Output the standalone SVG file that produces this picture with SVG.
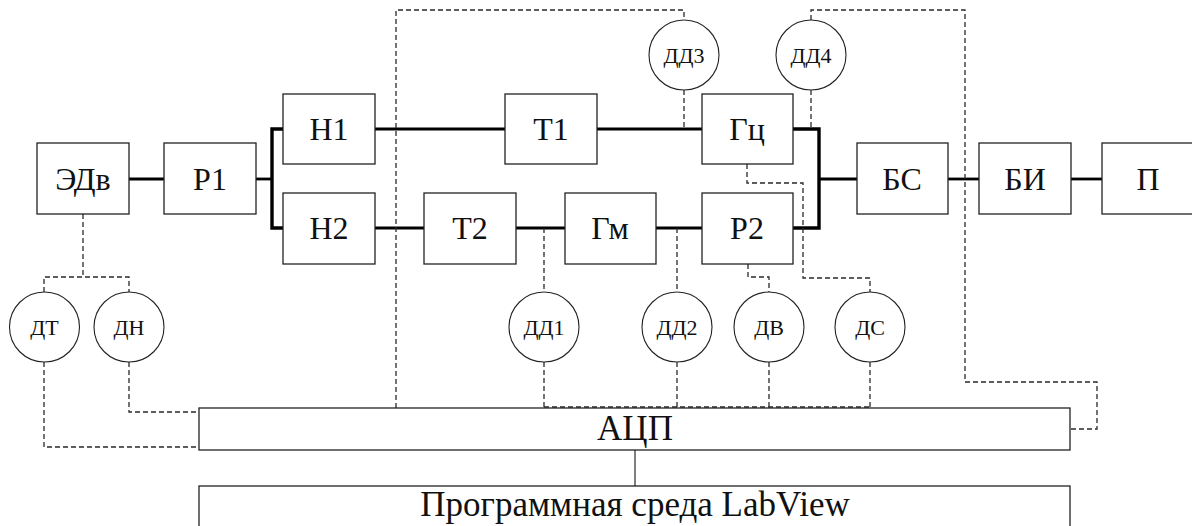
<svg xmlns="http://www.w3.org/2000/svg" width="1192" height="526" viewBox="0 0 1192 526">
  <style>
    .box { fill: #fff; stroke: #222; stroke-width: 1.3; }
    .sensor { fill: #fff; stroke: #222; stroke-width: 1.1; }
    text { font-family: "Liberation Serif", "DejaVu Serif", serif; fill: #111; text-anchor: middle; }
    .lbl { font-size: 32px; }
    .slbl { font-size: 22px; }
    .big { font-size: 35px; }
    .shaft { fill: none; stroke: #000; stroke-width: 2.8; }
    .bus { fill: none; stroke: #000; stroke-width: 3.4; }
    .signal { fill: none; stroke: #2a2a2a; stroke-width: 1.3; stroke-dasharray: 5 3; }
    .link { fill: none; stroke: #555; stroke-width: 1.5; }
  </style>

  <!-- mechanical connections and signal wiring -->
  <g id="connectors">
    <path class="shaft" d="M129,179 H164"/>
    <path class="shaft" d="M256,179 H272"/>
    <path class="bus" d="M283,129 H272 V228 H283"/>
    <path class="shaft" d="M375,129 H505"/>
    <path class="shaft" d="M597,129 H702"/>
    <path class="shaft" d="M375,228 H424"/>
    <path class="shaft" d="M516,228 H565"/>
    <path class="shaft" d="M656,228 H702"/>
    <path class="bus" d="M793,129 H819 V228 H793"/>
    <path class="shaft" d="M819,179 H857"/>
    <path class="shaft" d="M948,179 H979"/>
    <path class="shaft" d="M1071,179 H1102"/>

    <path class="signal" d="M83,214 V277"/>
    <path class="signal" d="M44,292 V277 H129 V292"/>
    <path class="signal" d="M44,362 V447 H199"/>
    <path class="signal" d="M129,362 V412 H199"/>
    <path class="signal" d="M396,408 V10 H684 V20"/>
    <path class="signal" d="M684,90 V129"/>
    <path class="signal" d="M811,20 V10 H965 V382 H1097 V429 H1070"/>
    <path class="signal" d="M811,90 V129"/>
    <path class="signal" d="M747,164 V183 H803 V278 H870 V292"/>
    <path class="signal" d="M748,264 V277 H769 V292"/>
    <path class="signal" d="M544,228 V292"/>
    <path class="signal" d="M677,228 V292"/>
    <path class="signal" d="M544,362 V408"/>
    <path class="signal" d="M677,362 V408"/>
    <path class="signal" d="M769,362 V408"/>
    <path class="signal" d="M870,362 V408"/>
    <path class="signal" d="M544,407 H870"/>

    <path class="link" d="M635,450 V486"/>
  </g>

  <g id="EDv"><rect class="box" x="37" y="143" width="92" height="71"/><text class="lbl" x="83" y="190">ЭДв</text></g>
  <g id="R1"><rect class="box" x="164" y="143" width="92" height="71"/><text class="lbl" x="210" y="190">Р1</text></g>
  <g id="N1"><rect class="box" x="283" y="94" width="92" height="70"/><text class="lbl" x="329" y="140">Н1</text></g>
  <g id="N2"><rect class="box" x="283" y="193" width="92" height="71"/><text class="lbl" x="329" y="239">Н2</text></g>
  <g id="T1"><rect class="box" x="505" y="94" width="92" height="70"/><text class="lbl" x="551" y="140">Т1</text></g>
  <g id="T2"><rect class="box" x="424" y="193" width="92" height="71"/><text class="lbl" x="470" y="239">Т2</text></g>
  <g id="Gm"><rect class="box" x="565" y="193" width="91" height="71"/><text class="lbl" x="610" y="239">Гм</text></g>
  <g id="Gc"><rect class="box" x="702" y="94" width="91" height="70"/><text class="lbl" x="747" y="140">Гц</text></g>
  <g id="R2"><rect class="box" x="702" y="193" width="91" height="71"/><text class="lbl" x="747" y="239">Р2</text></g>
  <g id="BS"><rect class="box" x="857" y="143" width="91" height="71"/><text class="lbl" x="902" y="190">БС</text></g>
  <g id="BI"><rect class="box" x="979" y="143" width="92" height="71"/><text class="lbl" x="1025" y="190">БИ</text></g>
  <g id="P"><rect class="box" x="1102" y="143" width="92" height="71"/><text class="lbl" x="1148" y="190">П</text></g>

  <g id="DD3"><circle class="sensor" cx="684" cy="55" r="35"/><text class="slbl" x="684" y="63">ДД3</text></g>
  <g id="DD4"><circle class="sensor" cx="811" cy="55" r="35"/><text class="slbl" x="811" y="63">ДД4</text></g>
  <g id="DT"><circle class="sensor" cx="44.5" cy="327" r="35"/><text class="slbl" x="44.5" y="335">ДТ</text></g>
  <g id="DN"><circle class="sensor" cx="129" cy="327" r="35"/><text class="slbl" x="129" y="335">ДН</text></g>
  <g id="DD1"><circle class="sensor" cx="544" cy="327" r="35"/><text class="slbl" x="544" y="335">ДД1</text></g>
  <g id="DD2"><circle class="sensor" cx="677" cy="327" r="35"/><text class="slbl" x="677" y="335">ДД2</text></g>
  <g id="DV"><circle class="sensor" cx="769" cy="327" r="35"/><text class="slbl" x="769" y="335">ДВ</text></g>
  <g id="DS"><circle class="sensor" cx="870" cy="327" r="35"/><text class="slbl" x="870" y="335">ДС</text></g>

  <g id="ADC"><rect class="box" x="199" y="408" width="871" height="42"/><text class="big" x="635" y="440">АЦП</text></g>
  <g id="LabView"><rect class="box" x="199" y="486" width="871" height="60"/><text class="big" x="635" y="516">Программная среда LabView</text></g>
</svg>
